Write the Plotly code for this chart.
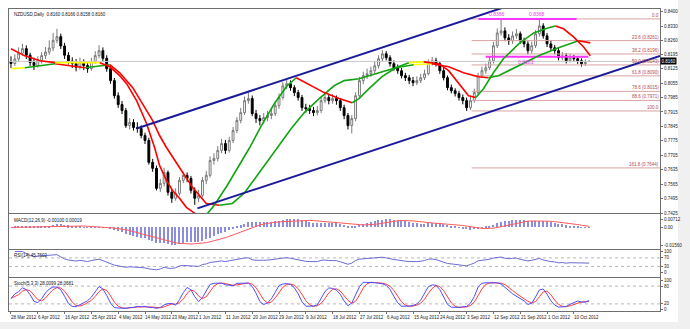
import plotly.graph_objects as go
import pandas as pd

# ---------------- data ----------------
tick_labels = ["28 Mar 2012", "6 Apr 2012", "16 Apr 2012", "25 Apr 2012", "4 May 2012",
               "14 May 2012", "23 May 2012", "1 Jun 2012", "11 Jun 2012", "20 Jun 2012",
               "29 Jun 2012", "9 Jul 2012", "18 Jul 2012", "27 Jul 2012", "6 Aug 2012",
               "15 Aug 2012", "24 Aug 2012", "3 Sep 2012", "12 Sep 2012", "21 Sep 2012",
               "1 Oct 2012", "10 Oct 2012"]
tick_pos = [0, 7, 14, 21, 28, 35, 42, 49, 56, 63, 70, 77, 84, 91, 98, 105, 112, 119, 126, 133, 140, 147]

opens = [0.8160, 0.8150, 0.8172, 0.8200, 0.8222, 0.8190, 0.8155, 0.8140, 0.8165, 0.8188,
         0.8205, 0.8225, 0.8262, 0.8280, 0.8235, 0.8190, 0.8162, 0.8150, 0.8132, 0.8158,
         0.8140, 0.8125, 0.8160, 0.8188, 0.8212, 0.8175, 0.8125, 0.8067, 0.7994, 0.7951,
         0.7922, 0.7849, 0.7864, 0.7840, 0.7835, 0.7801, 0.7777, 0.7671, 0.7642, 0.7545,
         0.7569, 0.7622, 0.7526, 0.7497, 0.7521, 0.7584, 0.7608, 0.7593, 0.7535, 0.7497,
         0.7511, 0.7584, 0.7608, 0.7680, 0.7690, 0.7729, 0.7762, 0.7729, 0.7777, 0.7825,
         0.7874, 0.7912, 0.7970, 0.7980, 0.7907, 0.7883, 0.7873, 0.7888, 0.7898, 0.7907,
         0.7946, 0.7985, 0.8042, 0.8052, 0.8033, 0.8009, 0.7985, 0.7936, 0.7931, 0.7922,
         0.7912, 0.7922, 0.7970, 0.7985, 0.7970, 0.7980, 0.7970, 0.7936, 0.7898, 0.7849,
         0.7883, 0.7994, 0.8067, 0.8091, 0.8100, 0.8115, 0.8139, 0.8173, 0.8197, 0.8178,
         0.8149, 0.8129, 0.8115, 0.8091, 0.8081, 0.8067, 0.8057, 0.8067, 0.8081, 0.8100,
         0.8154, 0.8163, 0.8149, 0.8115, 0.8081, 0.8033, 0.8018, 0.8004, 0.7985, 0.7970,
         0.7936, 0.7970, 0.8009, 0.8091, 0.8115, 0.8129, 0.8163, 0.8236, 0.8298, 0.8308,
         0.8274, 0.8260, 0.8284, 0.8294, 0.8260, 0.8245, 0.8212, 0.8236, 0.8294, 0.8332,
         0.8284, 0.8245, 0.8226, 0.8212, 0.8178, 0.8187, 0.8163, 0.8178, 0.8173, 0.8163,
         0.8149, 0.8160]
closes = [0.8150, 0.8172, 0.8200, 0.8222, 0.8190, 0.8155, 0.8140, 0.8165, 0.8188, 0.8205,
          0.8225, 0.8262, 0.8280, 0.8235, 0.8190, 0.8162, 0.8150, 0.8132, 0.8158, 0.8140,
          0.8125, 0.8160, 0.8188, 0.8212, 0.8175, 0.8125, 0.8067, 0.7994, 0.7951, 0.7922,
          0.7849, 0.7864, 0.7840, 0.7835, 0.7801, 0.7777, 0.7671, 0.7642, 0.7545, 0.7569,
          0.7622, 0.7526, 0.7497, 0.7521, 0.7584, 0.7608, 0.7593, 0.7535, 0.7497, 0.7511,
          0.7584, 0.7608, 0.7680, 0.7690, 0.7729, 0.7762, 0.7729, 0.7777, 0.7825, 0.7874,
          0.7912, 0.7970, 0.7980, 0.7907, 0.7883, 0.7873, 0.7888, 0.7898, 0.7907, 0.7946,
          0.7985, 0.8042, 0.8052, 0.8033, 0.8009, 0.7985, 0.7936, 0.7931, 0.7922, 0.7912,
          0.7922, 0.7970, 0.7985, 0.7970, 0.7980, 0.7970, 0.7936, 0.7898, 0.7849, 0.7883,
          0.7994, 0.8067, 0.8091, 0.8100, 0.8115, 0.8139, 0.8173, 0.8197, 0.8178, 0.8149,
          0.8129, 0.8115, 0.8091, 0.8081, 0.8067, 0.8057, 0.8067, 0.8081, 0.8100, 0.8154,
          0.8163, 0.8149, 0.8115, 0.8081, 0.8033, 0.8018, 0.8004, 0.7985, 0.7970, 0.7936,
          0.7970, 0.8009, 0.8091, 0.8115, 0.8129, 0.8163, 0.8236, 0.8298, 0.8308, 0.8274,
          0.8260, 0.8284, 0.8294, 0.8260, 0.8245, 0.8212, 0.8236, 0.8294, 0.8332, 0.8284,
          0.8245, 0.8226, 0.8212, 0.8178, 0.8187, 0.8163, 0.8178, 0.8173, 0.8163, 0.8149,
          0.8154, 0.8160]
highs = [0.8185, 0.8195, 0.8228, 0.8245, 0.8238, 0.8202, 0.8178, 0.8185, 0.8205, 0.8230,
         0.8262, 0.8298, 0.8318, 0.8295, 0.8250, 0.8205, 0.8180, 0.8172, 0.8178, 0.8170,
         0.8155, 0.8178, 0.8210, 0.8238, 0.8228, 0.8190, 0.8138, 0.8080, 0.8010, 0.7968,
         0.7935, 0.7885, 0.7880, 0.7865, 0.7850, 0.7815, 0.7790, 0.7688, 0.7655, 0.7590,
         0.7645, 0.7632, 0.7540, 0.7545, 0.7600, 0.7625, 0.7622, 0.7605, 0.7550, 0.7538,
         0.7600, 0.7630, 0.7700, 0.7715, 0.7750, 0.7785, 0.7780, 0.7795, 0.7842, 0.7890,
         0.7935, 0.7990, 0.8010, 0.7995, 0.7925, 0.7900, 0.7910, 0.7920, 0.7930, 0.7965,
         0.8005, 0.8060, 0.8075, 0.8068, 0.8045, 0.8022, 0.7998, 0.7955, 0.7950, 0.7940,
         0.7945, 0.7990, 0.8010, 0.8000, 0.8002, 0.7995, 0.7982, 0.7950, 0.7910, 0.7900,
         0.8010, 0.8085, 0.8110, 0.8125, 0.8135, 0.8160, 0.8190, 0.8215, 0.8210, 0.8190,
         0.8165, 0.8145, 0.8128, 0.8105, 0.8095, 0.8085, 0.8088, 0.8100, 0.8120, 0.8170,
         0.8182, 0.8178, 0.8160, 0.8128, 0.8092, 0.8048, 0.8030, 0.8018, 0.8000, 0.7985,
         0.7990, 0.8028, 0.8105, 0.8135, 0.8150, 0.8185, 0.8255, 0.8320, 0.8366, 0.8325,
         0.8292, 0.8305, 0.8318, 0.8305, 0.8275, 0.8258, 0.8255, 0.8312, 0.8368, 0.8345,
         0.8298, 0.8262, 0.8240, 0.8225, 0.8205, 0.8200, 0.8198, 0.8192, 0.8185, 0.8175,
         0.8170, 0.8166]
lows = [0.8128, 0.8138, 0.8160, 0.8188, 0.8172, 0.8138, 0.8118, 0.8130, 0.8150, 0.8172,
        0.8192, 0.8210, 0.8248, 0.8220, 0.8172, 0.8145, 0.8128, 0.8112, 0.8120, 0.8118,
        0.8105, 0.8115, 0.8148, 0.8175, 0.8160, 0.8110, 0.8052, 0.7980, 0.7935, 0.7905,
        0.7838, 0.7830, 0.7825, 0.7815, 0.7788, 0.7760, 0.7660, 0.7625, 0.7535, 0.7528,
        0.7555, 0.7510, 0.7475, 0.7485, 0.7510, 0.7570, 0.7575, 0.7520, 0.7465, 0.7478,
        0.7500, 0.7565, 0.7598, 0.7660, 0.7675, 0.7715, 0.7712, 0.7718, 0.7765, 0.7812,
        0.7860, 0.7900, 0.7955, 0.7895, 0.7862, 0.7850, 0.7858, 0.7870, 0.7880, 0.7895,
        0.7930, 0.7975, 0.8025, 0.8018, 0.7992, 0.7970, 0.7920, 0.7912, 0.7905, 0.7895,
        0.7898, 0.7910, 0.7958, 0.7952, 0.7955, 0.7950, 0.7920, 0.7880, 0.7830, 0.7811,
        0.7870, 0.7985, 0.8050, 0.8075, 0.8085, 0.8100, 0.8125, 0.8160, 0.8165, 0.8135,
        0.8115, 0.8100, 0.8078, 0.8065, 0.8050, 0.8040, 0.8045, 0.8055, 0.8070, 0.8092,
        0.8140, 0.8135, 0.8100, 0.8068, 0.8020, 0.8005, 0.7990, 0.7970, 0.7952, 0.7920,
        0.7925, 0.7960, 0.8000, 0.8080, 0.8100, 0.8118, 0.8150, 0.8225, 0.8285, 0.8258,
        0.8240, 0.8245, 0.8270, 0.8245, 0.8228, 0.8195, 0.8198, 0.8225, 0.8280, 0.8270,
        0.8230, 0.8210, 0.8195, 0.8165, 0.8165, 0.8150, 0.8155, 0.8160, 0.8148, 0.8135,
        0.8138, 0.8158]

# fast moving average: bar position, price
ma_fast_x = [0, 3.6, 7.6, 11.5, 15.4, 19.3, 23.2, 25.8, 28.4, 30.2, 32.8, 35.4, 37.5, 38.8,
             40.6, 42.2, 44.0, 45.8, 48.4, 50.5, 53.1, 56.5, 59.6, 62.2, 65.4, 68.8, 72.1,
             74.5, 77.9, 81.8, 85.7, 89.1, 90.9, 93.5, 96.9, 100.5, 103.9, 107.8, 111.7,
             114.3, 116.9, 119.5, 121.4, 123.4, 126.0, 128.6, 132.6, 136.5, 140.4, 142.2,
             144.3, 146.9, 149.5, 151.3]
ma_fast_y = [0.8221, 0.8187, 0.8163, 0.8154, 0.8154, 0.8154, 0.8154, 0.8134, 0.8091, 0.8052,
             0.7970, 0.7859, 0.7743, 0.7656, 0.7584, 0.7535, 0.7497, 0.7453, 0.7419, 0.7405,
             0.7463, 0.7560, 0.7656, 0.7738, 0.7849, 0.7956, 0.8042, 0.8081, 0.8047, 0.8009,
             0.7980, 0.7960, 0.7980, 0.8028, 0.8086, 0.8129, 0.8154, 0.8158, 0.8149, 0.8115,
             0.8057, 0.7994, 0.7985, 0.8028, 0.8105, 0.8173, 0.8245, 0.8298, 0.8323, 0.8332,
             0.8318, 0.8279, 0.8231, 0.8187]
# slow moving average
ma_slow_x = [0, 3.6, 7.6, 11.5, 15.4, 19.3, 23.2, 25.8, 28.4, 31.8, 34.4, 37.0, 38.8, 40.6,
             44.0, 47.4, 51.0, 54.4, 57.8, 60.9, 64.3, 67.4, 70.0, 73.2, 76.6, 80.5, 84.4,
             87.0, 90.9, 96.1, 100.5, 105.2, 109.9, 114.3, 118.2, 122.1, 124.7, 127.3, 132.6,
             137.8, 143.0, 148.2, 151.3]
ma_slow_y = [0.8125, 0.8129, 0.8139, 0.8149, 0.8139, 0.8129, 0.8139, 0.8144, 0.8105, 0.8033,
             0.7956, 0.7873, 0.7801, 0.7743, 0.7646, 0.7550, 0.7472, 0.7463, 0.7472, 0.7521,
             0.7608, 0.7690, 0.7753, 0.7835, 0.7912, 0.7980, 0.8042, 0.8067, 0.8076, 0.8105,
             0.8129, 0.8144, 0.8149, 0.8134, 0.8105, 0.8086, 0.8081, 0.8091, 0.8139, 0.8187,
             0.8226, 0.8260, 0.8250]

# trend channel (two parallel lines): bar position, price
chan_up_x = [32.8, 134.0]
chan_up_y = [0.7835, 0.8454]
chan_lo_x = [48.7, 169.5]
chan_lo_y = [0.7448, 0.8187]

# fibonacci retracement levels
fib_vals = [0.8366, 0.8261, 0.8196, 0.8143, 0.8090, 0.8015, 0.7971, 0.7920, 0.7644]
fib_text = ["0.0", "23.6 (0.8261)", "38.2 (0.8196)", "50.0 (0.8143)", "61.8 (0.8090)",
            "78.6 (0.8015)", "88.6 (0.7971)", "100.0", "161.8 (0.7644)"]

# magenta horizontal marks
mag_levels = [0.8366, 0.8183]
mag_start = [122.1, 124.0]
mag_end = [147.7, 150.8]
mag_labels = [("0.8366", 126.8, 0.8366), ("0.8368", 137.3, 0.8366), ("0.8183", 134.4, 0.8183)]

bid_price = 0.8160
main_ticks = [0.8400, 0.8330, 0.8260, 0.8195, 0.8125, 0.8055, 0.7985, 0.7915, 0.7845,
              0.7775, 0.7705, 0.7635, 0.7565, 0.7495, 0.7425]
title_text = "NZDUSD,Daily  0.8160 0.8166 0.8158 0.8160"
macd_text = "MACD(12,26,9) -0.00100 0.00019"
rsi_text = "RSI(14) 45.7602"
stoch_text = "Stoch(5,3,3) 28.0099 28.0681"

# ---------------- indicators from the candles ----------------
n = len(closes)
xs = list(range(n))
c = pd.Series(closes)
h = pd.Series(highs)
lo = pd.Series(lows)
ema12 = c.ewm(span=12, adjust=False).mean()
ema26 = c.ewm(span=26, adjust=False).mean()
macd = ema12 - ema26
macd_sig = macd.rolling(9, min_periods=1).mean()
d = c.diff()
gain = d.clip(lower=0).ewm(alpha=1 / 14, adjust=False).mean()
loss = (-d.clip(upper=0)).ewm(alpha=1 / 14, adjust=False).mean()
rsi = 100 - 100 / (1 + gain / loss)
ll = lo.rolling(5, min_periods=1).min()
hh = h.rolling(5, min_periods=1).max()
stk = 100 * (c - ll).rolling(3, min_periods=1).sum() / (hh - ll).rolling(3, min_periods=1).sum()
std = stk.rolling(3, min_periods=1).mean()

# ---------------- figure ----------------
W, H = 690, 329
L, R, T, B = 9, 28, 8, 18
PW, PH = W - L - R, H - T - B


def py2paper(py):
    return (H - B - py) / PH


XR = [-0.52, 169.5]
FONT = "Liberation Sans"
GREEN, RED, YELLOW = "#13a313", "#ff0000", "#ffff00"

fig = go.Figure()

fig.add_trace(go.Candlestick(
    x=xs, open=opens, high=highs, low=lows, close=closes,
    increasing=dict(line=dict(color="#7a7a7a", width=1), fillcolor="#ffffff"),
    decreasing=dict(line=dict(color="#000000", width=1), fillcolor="#000000"),
    whiskerwidth=0, showlegend=False, hoverinfo="skip", xaxis="x", yaxis="y"))

# bid line
fig.add_trace(go.Scatter(x=XR, y=[bid_price, bid_price], mode="lines",
                         line=dict(color="#c8c8c8", width=1), showlegend=False,
                         hoverinfo="skip", xaxis="x", yaxis="y"))

# fib lines
for v in fib_vals:
    fig.add_trace(go.Scatter(x=[120.3, XR[1]], y=[v, v], mode="lines",
                             line=dict(color="#d9a3a3", width=1), showlegend=False,
                             hoverinfo="skip", xaxis="x", yaxis="y"))

# magenta marks
for v, s, e in zip(mag_levels, mag_start, mag_end):
    fig.add_trace(go.Scatter(x=[s, e], y=[v, v], mode="lines",
                             line=dict(color="#ff33ff", width=2), showlegend=False,
                             hoverinfo="skip", xaxis="x", yaxis="y"))


def colored_runs(xv, yv, thr=0.00012):
    runs = []
    cur, cx, cy = None, [], []
    for i in range(len(xv) - 1):
        slope = (yv[i + 1] - yv[i]) / (xv[i + 1] - xv[i])
        col = GREEN if slope > thr else (RED if slope < -thr else YELLOW)
        if col != cur:
            if cur is not None:
                runs.append((cur, cx, cy))
            cur, cx, cy = col, [xv[i]], [yv[i]]
        cx.append(xv[i + 1])
        cy.append(yv[i + 1])
    runs.append((cur, cx, cy))
    return runs


for xv, yv in ((ma_slow_x, ma_slow_y), (ma_fast_x, ma_fast_y)):
    for col, rx, ry in colored_runs(xv, yv):
        fig.add_trace(go.Scatter(x=rx, y=ry, mode="lines", line=dict(color=col, width=1.6),
                                 showlegend=False, hoverinfo="skip", xaxis="x", yaxis="y"))

# channel
for cx_, cy_ in ((chan_up_x, chan_up_y), (chan_lo_x, chan_lo_y)):
    fig.add_trace(go.Scatter(x=cx_, y=cy_, mode="lines", line=dict(color="#1b1b9a", width=2),
                             showlegend=False, hoverinfo="skip", xaxis="x", yaxis="y"))

# MACD
fig.add_trace(go.Bar(x=xs, y=macd.tolist(), marker=dict(color="#8d8de0", line=dict(width=0)),
                     width=0.35, showlegend=False, hoverinfo="skip", xaxis="x2", yaxis="y2"))
fig.add_trace(go.Scatter(x=xs, y=macd_sig.tolist(), mode="lines", line=dict(color="#ff5a5a", width=1),
                         showlegend=False, hoverinfo="skip", xaxis="x2", yaxis="y2"))
# RSI
for lv in (70, 30):
    fig.add_trace(go.Scatter(x=XR, y=[lv, lv], mode="lines", line=dict(color="#b8b8b8", width=1, dash="dot"),
                             showlegend=False, hoverinfo="skip", xaxis="x3", yaxis="y3"))
fig.add_trace(go.Scatter(x=xs, y=rsi.tolist(), mode="lines", line=dict(color="#6b6bd6", width=1),
                         showlegend=False, hoverinfo="skip", xaxis="x3", yaxis="y3"))
# Stoch
for lv in (80, 20):
    fig.add_trace(go.Scatter(x=XR, y=[lv, lv], mode="lines", line=dict(color="#b8b8b8", width=1, dash="dot"),
                             showlegend=False, hoverinfo="skip", xaxis="x4", yaxis="y4"))
fig.add_trace(go.Scatter(x=xs, y=std.tolist(), mode="lines", line=dict(color="#ff3c3c", width=1),
                         showlegend=False, hoverinfo="skip", xaxis="x4", yaxis="y4"))
fig.add_trace(go.Scatter(x=xs, y=stk.tolist(), mode="lines", line=dict(color="#4d4dff", width=1),
                         showlegend=False, hoverinfo="skip", xaxis="x4", yaxis="y4"))

AX = dict(showline=True, mirror=True, linecolor="#6e6e6e", linewidth=1, showgrid=False,
          zeroline=False, ticks="outside", ticklen=2, tickcolor="#6e6e6e",
          tickfont=dict(size=4.5, color="#222", family=FONT))

dom = {
    "y": [py2paper(213), 1.0],
    "y2": [py2paper(249), py2paper(214)],
    "y3": [py2paper(277), py2paper(250)],
    "y4": [0.0, py2paper(278)],
}

# MACD axis: max value shown ~5px below panel top, min ~4px above panel bottom
mmax = float(max(macd.max(), macd_sig.max()))
mmin = float(min(macd.min(), macd_sig.min()))
px_unit = (mmax - mmin) / 26.0
macd_range = [mmin - 4 * px_unit, mmax + 5 * px_unit]

fig.update_layout(
    width=W, height=H, margin=dict(l=L, r=R, t=T, b=B),
    paper_bgcolor="#ffffff", plot_bgcolor="#ffffff",
    font=dict(family=FONT, size=4.5, color="#222"),
    showlegend=False, bargap=0,
    xaxis=dict(AX, range=XR, domain=[0, 1], anchor="y", showticklabels=False, ticks="",
               rangeslider=dict(visible=False)),
    xaxis2=dict(AX, range=XR, domain=[0, 1], anchor="y2", matches="x", showticklabels=False, ticks=""),
    xaxis3=dict(AX, range=XR, domain=[0, 1], anchor="y3", matches="x", showticklabels=False, ticks=""),
    xaxis4=dict(AX, range=XR, domain=[0, 1], anchor="y4", matches="x",
                tickvals=tick_pos, showticklabels=False),
    yaxis=dict(AX, domain=dom["y"], side="right", anchor="x",
               range=[0.7424, 0.8414], tickvals=main_ticks,
               ticktext=[f"{v:.4f}" for v in main_ticks]),
    yaxis2=dict(AX, domain=dom["y2"], side="right", anchor="x2",
                range=macd_range, tickvals=[mmax, 0, mmin],
                ticktext=[f"{mmax:.5f}", "0.00", f"{mmin:.5f}"]),
    yaxis3=dict(AX, domain=dom["y3"], side="right", anchor="x3",
                range=[-20, 106], tickvals=[100, 70, 30, 0]),
    yaxis4=dict(AX, domain=dom["y4"], side="right", anchor="x4",
                range=[-4, 107], tickvals=[100, 80, 20, 0]),
)

ann = []
ann.append(dict(text=title_text, xref="paper", yref="paper", x=(12 - L) / PW, y=py2paper(9),
                xanchor="left", yanchor="top", showarrow=False, font=dict(size=4.5, color="#111")))
ann.append(dict(text=macd_text, xref="paper", yref="paper", x=(12 - L) / PW, y=py2paper(216),
                xanchor="left", yanchor="top", showarrow=False, font=dict(size=4.5, color="#111")))
ann.append(dict(text=rsi_text, xref="paper", yref="paper", x=(12 - L) / PW, y=py2paper(251),
                xanchor="left", yanchor="top", showarrow=False, font=dict(size=4.5, color="#111")))
ann.append(dict(text=stoch_text, xref="paper", yref="paper", x=(12 - L) / PW, y=py2paper(279),
                xanchor="left", yanchor="top", showarrow=False, font=dict(size=4.5, color="#111")))
# date labels, left-aligned at their bar like the terminal does
for p, t in zip(tick_pos, tick_labels):
    ann.append(dict(text=t, xref="x4", yref="paper", x=p - 0.4, y=py2paper(313),
                    xanchor="left", yanchor="top", showarrow=False, font=dict(size=4.5, color="#222")))
for v, t in zip(fib_vals, fib_text):
    ann.append(dict(text=t, xref="x", yref="y", x=XR[1], y=v, xanchor="right", yanchor="bottom",
                    showarrow=False, font=dict(size=4.5, color="#b24a4a"), borderpad=0))
for t, xb, v in mag_labels:
    ann.append(dict(text=t, xref="x", yref="y", x=xb, y=v, xanchor="center",
                    yanchor="top" if v < 0.83 else "bottom",
                    showarrow=False, font=dict(size=5, color="#e83ae8"), borderpad=1))
ann.append(dict(text=f"{bid_price:.4f}", xref="paper", yref="y", x=1.0, y=bid_price, xanchor="left",
                yanchor="middle", showarrow=False, bgcolor="#000000",
                font=dict(size=4.5, color="#ffffff"), borderpad=0.5))
fig.update_layout(annotations=ann)

# grey window surround
fig.add_shape(type="rect", xref="paper", yref="paper", x0=(680 - L) / PW, x1=(W + 5 - L) / PW,
              y0=py2paper(H + 5), y1=py2paper(-5), fillcolor="#f0f0f0", line=dict(width=0), layer="below")
fig.add_shape(type="rect", xref="paper", yref="paper", x0=(-5 - L) / PW, x1=(W + 5 - L) / PW,
              y0=py2paper(H + 5), y1=py2paper(322), fillcolor="#f0f0f0", line=dict(width=0), layer="below")

fig.write_html("out.html")
